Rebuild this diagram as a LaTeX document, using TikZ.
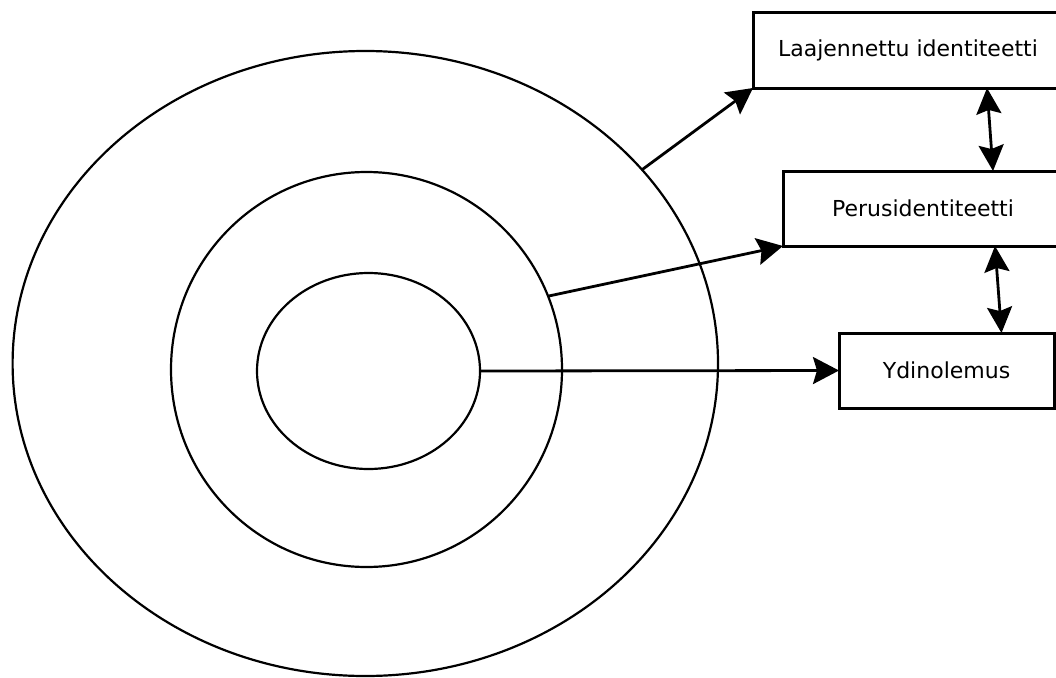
\documentclass[tikz,border=0pt]{standalone}
\usepackage{fontspec}
\setmainfont{DejaVu Sans}
\usetikzlibrary{shapes.geometric,arrows.meta,calc}
\tikzset{
  ring/.style={draw=black,line width=2.2pt,ellipse,inner sep=0pt,outer sep=0pt},
  labelbox/.style={draw=black,line width=3pt,rectangle,inner sep=0pt,outer sep=0pt,
    minimum height=75pt,font=\fontsize{22}{26}\selectfont,text=black},
  conn/.style={line width=2.8pt,-{Stealth[length=26pt,width=27pt,inset=4pt]}},
  dconn/.style={line width=2.8pt,{Stealth[length=26pt,width=25pt,inset=4pt]}-{Stealth[length=26pt,width=25pt,inset=4pt]}}
}
\begin{document}
\begin{tikzpicture}[x=1pt,y=-1pt]
\useasboundingbox[fill=white] (0,0) rectangle (1056,677);
% rings
\node[ring,minimum width=705.4pt,minimum height=625pt] (outer) at (365.3,363.5) {};
\node[ring,minimum width=391pt,minimum height=395pt] (middle) at (366.5,369.5) {};
\node[ring,minimum width=223pt,minimum height=196pt] (inner) at (368.5,371) {};
% boxes
\node[labelbox,minimum width=310pt] (box1) at (908,50.5) {Laajennettu identiteetti};
\node[labelbox,minimum width=280pt] (box2) at (923,208.5) {Perusidentiteetti};
\node[labelbox,minimum width=215pt] (box3) at (946.5,370.5) {Ydinolemus};
% connectors
\draw[conn] (outer.35) -- (box1.south west);
\draw[conn] (middle.22.6) -- (box2.south west);
\draw[conn] (inner.east) -- (box3.west);
\draw[dconn] ($(box1.south)+(79,0)$) -- ($(box2.north)+(70,0)$);
\draw[dconn] ($(box2.south)+(72,0)$) -- ($(box3.north)+(55,0)$);
\end{tikzpicture}
\end{document}
